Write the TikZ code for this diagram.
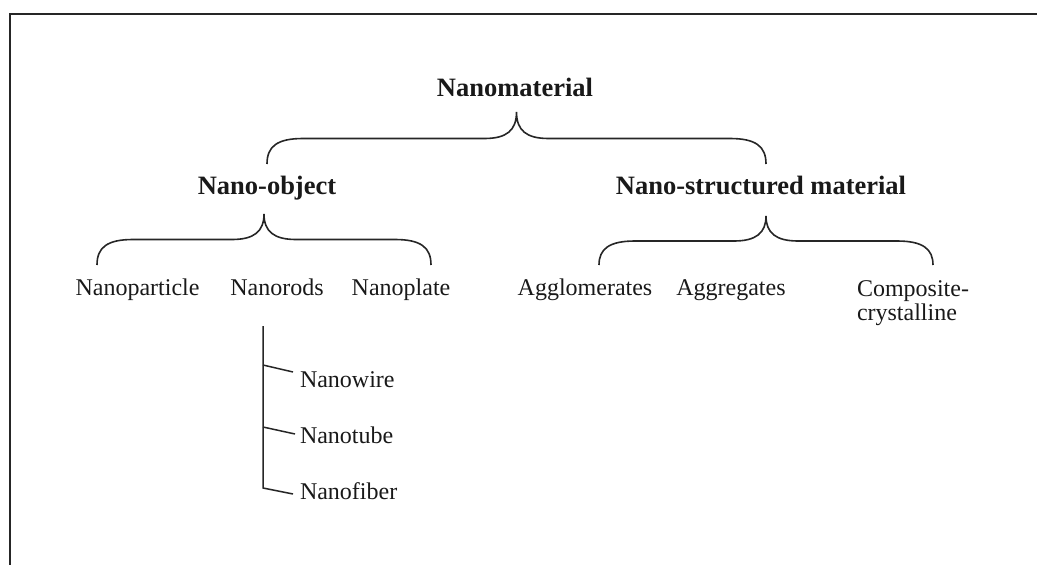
\documentclass[tikz,border=0pt]{standalone}
\usepackage{fontspec}
\setmainfont{Liberation Serif}
\begin{document}
\begin{tikzpicture}[x=1pt,y=-1pt,
  every node/.style={inner sep=0pt,outer sep=0pt,text=black!90},
  head/.style={font=\fontsize{26.5}{30}\selectfont\bfseries,anchor=base},
  leaf/.style={font=\fontsize{24}{24}\selectfont,anchor=base},
  sub/.style={font=\fontsize{24}{24}\selectfont,anchor=base west},
  frameline/.style={line width=2pt,draw=black!85},
  bracket/.style={line width=1.6pt,draw=black!85},
  branch/.style={line width=1.5pt,draw=black!85}]
\useasboundingbox (0,0) rectangle (1037,565);
% partial frame (top and left edges)
\coordinate (fl) at (9.8,565);
\coordinate (ftl) at (9.8,13.5);
\coordinate (ftr) at (1037,13.5);
\draw[frameline] (fl) -- (ftl) -- (ftr);

% labels
\node[head] (nm) at (515,96) {Nanomaterial};
\node[head] (no) at (267,194) {Nano-object};
\node[head] (ns) at (761,194) {Nano-structured material};
\node[leaf] (np) at (137.5,295) {Nanoparticle};
\node[leaf] (nr) at (277,295) {Nanorods};
\node[leaf] (npl) at (401,295) {Nanoplate};
\node[leaf] (ag) at (585,295) {Agglomerates};
\node[leaf] (agg) at (731,295) {Aggregates};
\node[font=\fontsize{24}{24}\selectfont,align=left,anchor=north west] (cc) at (857,281) {Composite-\\[0pt]crystalline};
\node[sub] (nw) at (300,387) {Nanowire};
\node[sub] (nt) at (300,443) {Nanotube};
\node[sub] (nf) at (300,499) {Nanofiber};

% curly brackets: tip, height of the straight part, two ends
\newcommand{\curlybrace}[6]{% tipx, tipy, bar y, left x, right x, end y
  \draw[bracket] (#4,#6) .. controls (#4,#3+8) and (#4+10,#3) .. (#4+36,#3)
    -- (#1-32,#3) .. controls (#1-10,#3) and (#1,#3-8) .. (#1,#2)
    .. controls (#1,#3-8) and (#1+10,#3) .. (#1+32,#3)
    -- (#5-36,#3) .. controls (#5-10,#3) and (#5,#3+8) .. (#5,#6);}
\curlybrace{516.5}{112}{138.5}{267}{766}{164}
\curlybrace{264}{214}{239.5}{97}{431}{265}
\curlybrace{766}{216}{241}{599}{933}{265}

% sub-branches of Nanorods
\coordinate (rtop) at (263,326);
\coordinate (r1) at (263,365);
\coordinate (r2) at (263,427);
\coordinate (r3) at (263,488);
\coordinate (t1) at (293,372);
\coordinate (t2) at (295,434);
\coordinate (t3) at (293,494);
\draw[branch] (rtop) -- (r3) -- (t3);
\draw[branch] (r1) -- (t1);
\draw[branch] (r2) -- (t2);
\end{tikzpicture}
\end{document}
